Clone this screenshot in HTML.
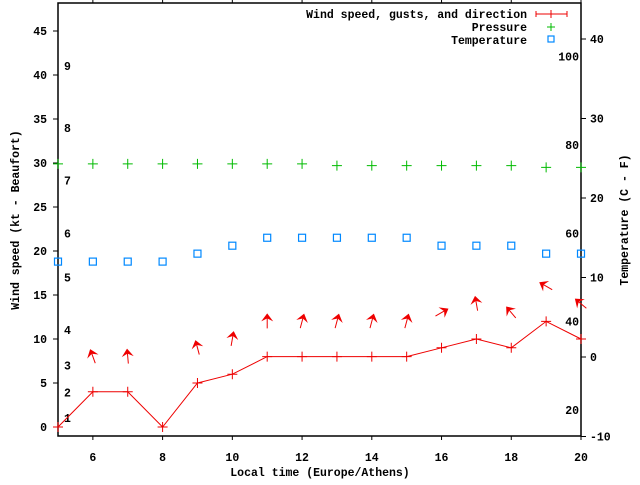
<!DOCTYPE html>
<html><head><meta charset="utf-8"><style>
body{margin:0;background:#fff}
svg text{font-family:"Liberation Mono",monospace;font-weight:bold;font-size:11.5px;fill:#000}
</style></head><body>
<svg id="chart" width="640" height="480" xmlns="http://www.w3.org/2000/svg">
<g id="axes"></g><g id="marks"></g>
</svg>
<script>
const hours=[5,6,7,8,9,10,11,12,13,14,15,16,17,18,19,20];
const windSpeed=[0,4,4,0,5,6,8,8,8,8,8,9,10,9,12,10];
const windDir=[null,-20,-5,null,-15,10,0,15,15,15,15,60,-10,-40,-60,-50];
const pressure=[29.9,29.9,29.9,29.9,29.9,29.9,29.9,29.9,29.7,29.7,29.7,29.7,29.7,29.7,29.5,29.5];
const temperature=[12,12,12,12,13,14,15,15,15,15,15,14,14,14,13,13];
const xTicks=[6,8,10,12,14,16,18,20];
const yTicks=[0,5,10,15,20,25,30,35,40,45];
const y2Ticks=[-10,0,10,20,30,40];
const beaufort=[[1,1.0],[2,3.9],[3,7.0],[4,11],[5,17],[6,22],[7,28],[8,34],[9,41]];
const fahr=[20,40,60,80,100];
const L=58,R=581,T=3,B=436;
const X=v=>L+(v-5)*(R-L)/15;
const Y=v=>427-v*8.8;
const Y2=v=>357-v*7.95;
const F2C=f=>(f-32)*5/9;
const NS="http://www.w3.org/2000/svg";
function el(tag,attrs,parent,txt){const e=document.createElementNS(NS,tag);for(const k in attrs)e.setAttribute(k,attrs[k]);if(txt!==undefined)e.textContent=txt;parent.appendChild(e);return e;}
const ax=document.getElementById('axes'),mk=document.getElementById('marks');
let e=el('rect',{x:L,y:T,width:R-L,height:B-T,fill:'none',stroke:'#000','stroke-width':1.5},ax);

xTicks.forEach(t=>{const x=X(t);
 el('line',{x1:x,y1:B,x2:x,y2:B+4,stroke:'#000'},ax);el('line',{x1:x,y1:T,x2:x,y2:T-4,stroke:'#000'},ax);
 e=el('text',{x:x,y:461,'text-anchor':'middle'},ax,t);});
yTicks.forEach(t=>{const y=Y(t);el('line',{x1:L-5,y1:y,x2:L,y2:y,stroke:'#000'},ax);
 e=el('text',{x:47,y:y+4,'text-anchor':'end'},ax,t);});
y2Ticks.forEach(t=>{const y=Y2(t);el('line',{x1:R,y1:y,x2:R+5,y2:y,stroke:'#000'},ax);
 e=el('text',{x:590,y:y+4},ax,t);});
beaufort.forEach(b=>{e=el('text',{x:64,y:Y(b[1])+4},ax,b[0]);});
fahr.forEach(f=>{e=el('text',{x:579,y:Y2(F2C(f))+4,'text-anchor':'end'},ax,f);});
e=el('text',{x:320,y:476,'text-anchor':'middle'},ax,'Local time (Europe/Athens)');
e=el('text',{x:19,y:220,'text-anchor':'middle',transform:'rotate(-90 19 220)'},ax,'Wind speed (kt - Beaufort)');
e=el('text',{x:628,y:220,'text-anchor':'middle',transform:'rotate(-90 628 220)'},ax,'Temperature (C - F)');
const lg=[['Wind speed, gusts, and direction',18],['Pressure',31],['Temperature',44]];
lg.forEach(l=>{e=el('text',{x:527,y:l[1],'text-anchor':'end'},ax,l[0]);});
el('path',{d:'M536 14H567M536 11V17M567 11V17M551 10V18',stroke:'#e00',fill:'none'},ax);
el('path',{d:'M547 27H555M551 23V31',stroke:'#0b0',fill:'none'},ax);
el('rect',{x:548,y:36,width:6,height:6,stroke:'#08f',fill:'none','stroke-width':1.2},ax);
let d='';hours.forEach((h,i)=>{d+=(i?'L':'M')+X(h)+' '+Y(windSpeed[i]);});
e=el('path',{d:d,stroke:'#e00',fill:'none'},mk);
hours.forEach((h,i)=>{const x=X(h),y=Y(windSpeed[i]);
 e=el('path',{d:`M${x-5} ${y}H${x+5}M${x} ${y-5}V${y+5}`,stroke:'#e00'},mk);
 if(windDir[i]!==null){const cy=Y(windSpeed[i]+4);
  e=el('g',{transform:`translate(${x},${cy}) rotate(${windDir[i]})`},mk);
  el('line',{x1:0,y1:7,x2:0,y2:-4,stroke:'#e00'},e);el('path',{d:'M0 -8L-6 0L0 -3L6 0Z',fill:'#e00'},e);}
 const py=Y(pressure[i]);
 e=el('path',{d:`M${x-5} ${py}H${x+5}M${x} ${py-5}V${py+5}`,stroke:'#0b0'},mk);
 const ty=Y2(temperature[i]);
 e=el('rect',{x:x-3.5,y:ty-3.5,width:7,height:7,fill:'none',stroke:'#08f','stroke-width':1.2},mk);
});
</script>
</body></html>
